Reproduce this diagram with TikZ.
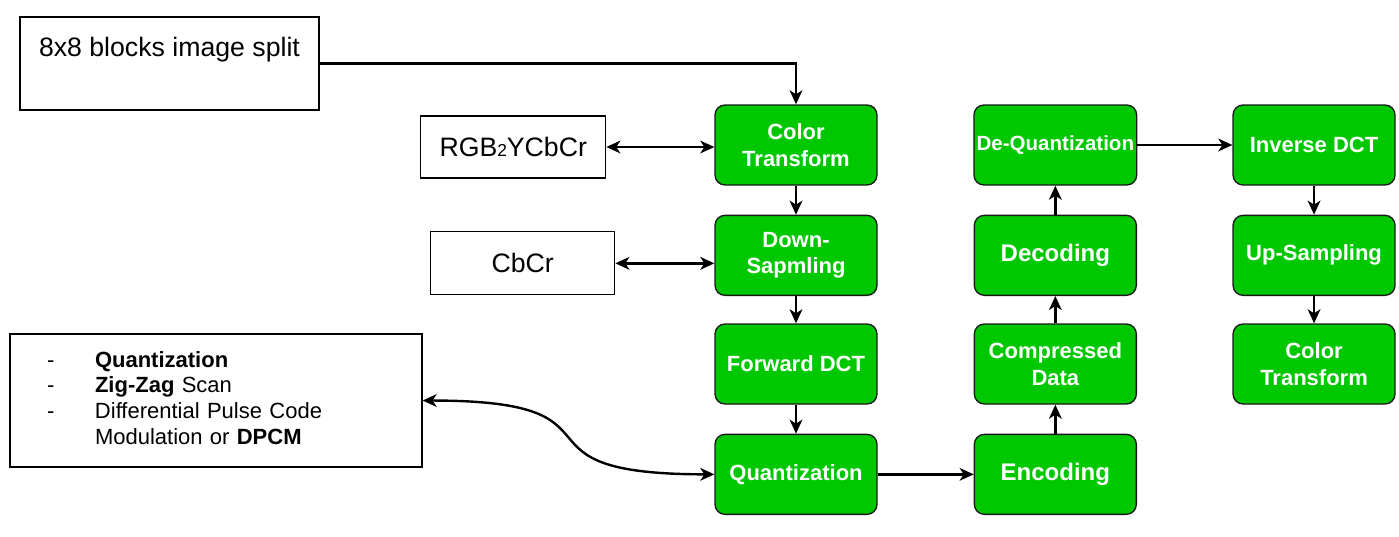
\documentclass[tikz,border=0pt]{standalone}
\usepackage{fontspec}
\setmainfont{Liberation Sans}
\usepackage{tikz}
\usetikzlibrary{arrows.meta, positioning, calc}

\definecolor{StageGreen}{RGB}{0,200,0}

\begin{document}
\begin{tikzpicture}[>={Stealth[length=10.5pt,width=9.5pt,inset=3pt]},line width=1.8pt,node distance=21.75pt and 72pt,
  stage/.style={draw=black!90, line width=1pt, fill=StageGreen, rounded corners=7.5pt,
                minimum width=121.5pt, minimum height=60pt, inner sep=2pt, align=center,
                text=white, font=\bfseries\fontsize{16.5}{20}\selectfont},
  note/.style={draw=black, line width=0.9pt, fill=white, inner sep=0pt,
               font=\fontsize{20}{24}\selectfont}]

\useasboundingbox (0,0) rectangle (1049.25pt,-402pt);

% encoder column
\node[stage] (CT) at (597pt,-108.75pt) {Color\\Transform};
\node[stage] (DS) [below=of CT] {Down-\\Sapmling};
\node[stage] (FD) [below=20.5pt of DS] {Forward DCT};
\node[stage] (QU) [below=of FD] {Quantization};

% coding column
\node[stage, font=\bfseries\fontsize{18}{21}\selectfont] (EN) [right=of QU] {Encoding};
\node[stage] (CD) [above=of EN] {Compressed\\Data};
\node[stage, font=\bfseries\fontsize{18}{21}\selectfont] (DE) [above=20.5pt of CD] {Decoding};
\node[stage, font=\bfseries\fontsize{15.4}{18}\selectfont] (DQ) [above=of DE] {De-Quantization};

% decoder column
\node[stage] (ID)  [right=71.25pt of DQ] {Inverse DCT};
\node[stage] (US)  [below=of ID] {Up-Sampling};
\node[stage] (CT2) [below=20.5pt of US] {Color\\Transform};

% side notes
\node[note, minimum width=224.25pt, text height=30pt, text depth=39.75pt] (split) at (127.1pt,-47.6pt) {8x8 blocks image split};
\node[note, minimum width=138.75pt, minimum height=46.5pt] (rgb) [left=81pt of CT, yshift=-1.5pt] {RGB{\fontsize{13}{13}\selectfont 2}YCbCr};
\node[note, minimum width=138pt, minimum height=47.25pt] (cbcr) [left=74.25pt of DS, yshift=-6pt] {CbCr};
\node[note, inner xsep=27.75pt, text width=253.5pt, minimum height=99.75pt, align=left,
      font=\fontsize{16.5}{19.3}\selectfont] (steps) at (162pt,-300.4pt)
  {\begin{tabular}{@{}p{36pt}@{}l@{}}
   - & \textbf{Quantization}\\
   - & \textbf{Zig-Zag} Scan\\
   - & Differential Pulse Code\\
     & Modulation or \textbf{DPCM}
   \end{tabular}};

\draw[->] (split.east) -| (CT.north);
\draw[<->] (rgb.east) -- (rgb.east -| CT.west);
\draw[<->] (cbcr.east) -- (cbcr.east -| DS.west);
\draw[<->] (steps.east) .. controls ($(steps.east)+(165pt,0)$) and ($(QU.west)+(-165pt,0)$) .. (QU.west);

\path (CT) edge[->] (DS)
      (DS) edge[->] (FD)
      (FD) edge[->] (QU)
      (QU) edge[->] (EN)
      (EN) edge[->] (CD)
      (CD) edge[->] (DE)
      (DE) edge[->] (DQ)
      (DQ) edge[->] (ID)
      (ID) edge[->] (US)
      (US) edge[->] (CT2);

\end{tikzpicture}
\end{document}
